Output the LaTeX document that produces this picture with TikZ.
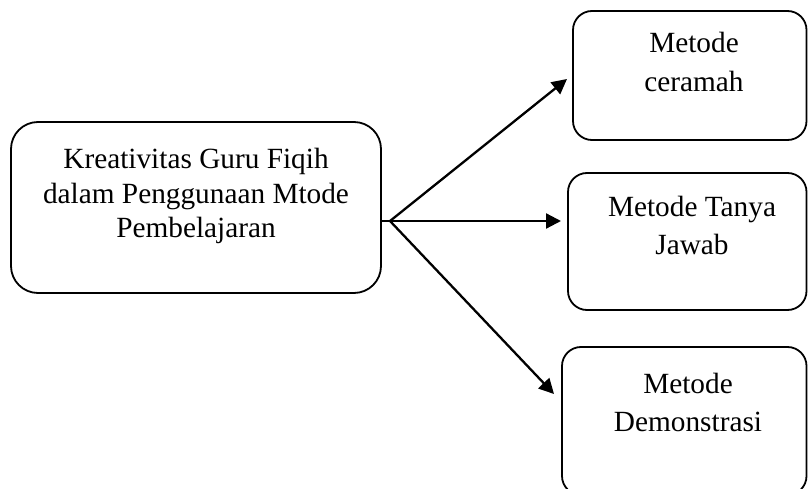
\documentclass[tikz,border=0pt]{standalone}
\usepackage{fontspec}
\setmainfont{Liberation Serif}
\usetikzlibrary{arrows.meta}
\tikzset{
  box/.style={draw=black, line width=1.8pt, rounded corners=#1},
  txt/.style={anchor=base, inner sep=0pt, font=\fontsize{29.3}{29}\selectfont},
  conn/.style={line width=2.3pt},
  arr/.style={conn, -{Triangle[length=15pt,width=15pt]}}
}
\begin{document}
\begin{tikzpicture}[x=1pt,y=-1pt]
\useasboundingbox (0,0) rectangle (808,489);
\clip (0,0) rectangle (808,489);
% boxes
\draw[box=27pt] (11,122) rectangle (381,293);
\coordinate (mainR) at (381,221);
\draw[box=19pt] (573,11) rectangle (806.5,140);
\draw[box=19pt] (568,173) rectangle (806.5,310);
\draw[box=19pt] (562,347) rectangle (806.5,495);
% texts
\node[txt] (m1) at (196,168.5) {Kreativitas Guru Fiqih};
\node[txt] (m2) at (196,204) {dalam Penggunaan Mtode};
\node[txt] (m3) at (196,237) {Pembelajaran};
\node[txt] (a1) at (694,53) {Metode};
\node[txt] (a2) at (694,92) {ceramah};
\node[txt] (b1) at (692,216) {Metode Tanya};
\node[txt] (b2) at (692,254) {Jawab};
\node[txt] (c1) at (688,393) {Metode};
\node[txt] (c2) at (688,431) {Demonstrasi};
% connectors
\coordinate (hub) at (390,221);
\coordinate (t1) at (567,79);
\coordinate (t2) at (561,221);
\coordinate (t3) at (554,394);
\draw[conn] (mainR) -- (hub);
\draw[arr] (hub) -- (t1);
\draw[arr] (hub) -- (t2);
\draw[arr] (hub) -- (t3);
\end{tikzpicture}
\end{document}
